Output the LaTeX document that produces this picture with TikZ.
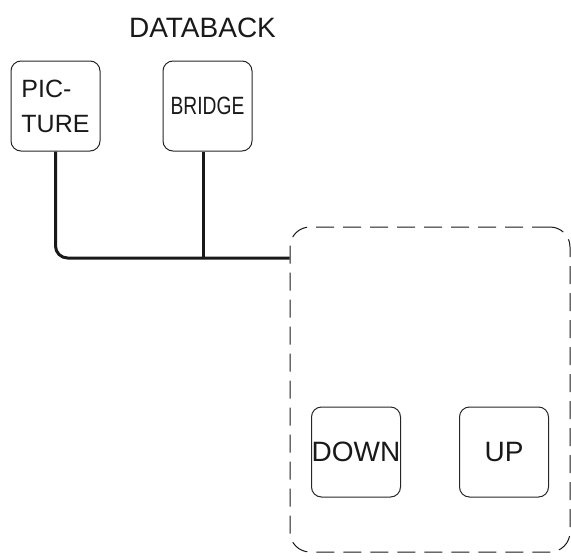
\documentclass[tikz,border=0pt]{standalone}
\usepackage{fontspec}
\setmainfont{Liberation Sans}
\begin{document}
\begin{tikzpicture}[x=1pt,y=-1pt,
  key/.style={draw=black!85, line width=1pt, rounded corners=10pt, inner sep=0pt,
    minimum width=89pt, minimum height=90pt, text=black!90,
    font=\fontsize{25}{35}\selectfont},
  bigkey/.style={key, font=\fontsize{28}{34}\selectfont},
  frame/.style={draw=black!90, line width=1pt, rounded corners=20pt,
    dash pattern=on 18pt off 9pt, minimum width=280pt, minimum height=325pt, inner sep=0pt},
  wire/.style={line width=3pt, draw=black!90}]
  \useasboundingbox (0,0) rectangle (571,560);

  % title
  \node[anchor=base, font=\fontsize{28}{34}\selectfont, text=black!90] (title) at (202.5,37) {DATABACK};

  % top modules
  \node[key, align=left] (pic) at (55.5,106) {PIC-\\TURE};
  \node[key] (bridge) at (207.5,106) {\scalebox{0.77}[1]{BRIDGE}};

  % dashed enclosure with its buttons
  \node[frame] (box) at (430,389.5) {};
  \node[bigkey] (down) at (356,452) {DOWN};
  \node[bigkey] (up) at (504,452) {UP};

  % bus joining the modules to the enclosure
  \coordinate (tap) at (box.west |- 0,258);
  \coordinate (drop) at ([xshift=-4.5pt]bridge.south);
  \draw[wire, rounded corners=12pt] (pic.south) |- (tap);
  \draw[wire] (drop) -- (drop |- tap);
\end{tikzpicture}
\end{document}
